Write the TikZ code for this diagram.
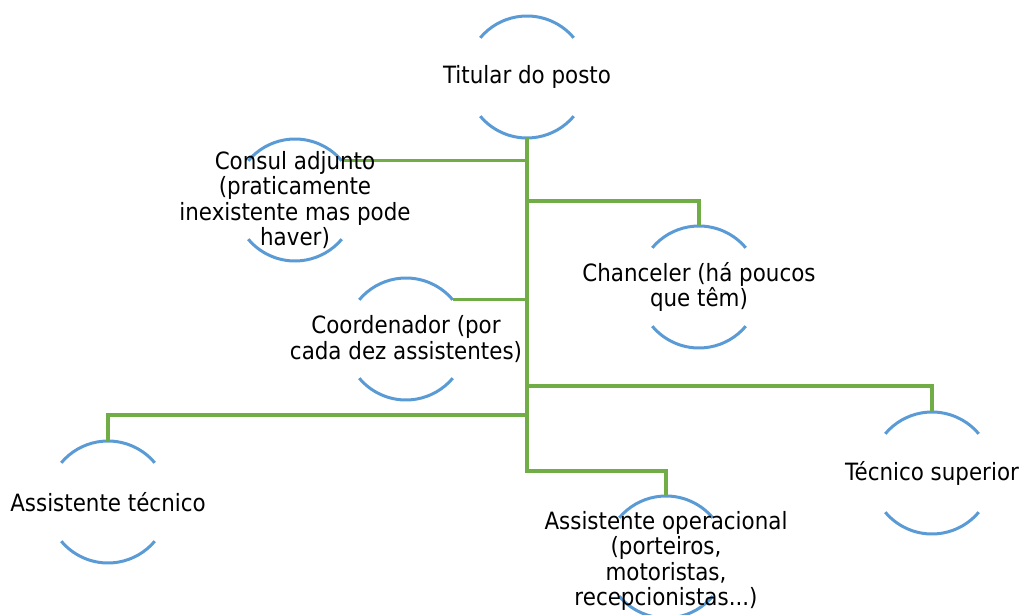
\documentclass[tikz,border=0pt]{standalone}
\usepackage{fontspec}
\setmainfont[FakeStretch=0.9]{DejaVu Sans}
\definecolor{ringblue}{RGB}{91,155,213}
\definecolor{linkgreen}{RGB}{112,173,71}
\tikzset{
    post/.style={circle, minimum size=122pt, inner sep=0pt, outer sep=0pt},
    ring/.style={ringblue, line width=3pt},
    conn/.style={linkgreen, line width=3.2pt},
    lbl/.style={align=center, inner sep=0pt, font=\fontsize{23.8}{25.5}\selectfont}
}
\begin{document}
\begin{tikzpicture}[x=1pt, y=1pt]
        \useasboundingbox (0,0) rectangle (1023,614);

        % circles (only their top and bottom arcs are shown)
        \node[post] (tit) at (527,537) {};
        \node[post] (con) at (295,414) {};
        \node[post] (cha) at (699,327) {};
        \node[post] (coo) at (406,275) {};
        \node[post] (tsu) at (932,141) {};
        \node[post] (ats) at (108,112) {};
        \node[post] (aop) at (666,57) {};

        \foreach \n in {tit,con,cha,coo,tsu,ats,aop} {
            \draw[ring] (\n.40) arc (40:140:61pt);
            \draw[ring] (\n.220) arc (220:320:61pt);
        }

        % junctions on the trunk
        \coordinate (jcha) at (527,413);
        \coordinate (jtsu) at (527,228);
        \coordinate (jats) at (527,199);
        \coordinate (jaop) at (527,143);

        \draw[conn] (tit.south) -- (jaop) -| (aop.north);
        \draw[conn] (con.40) -- (con.40 -| tit.south);
        \draw[conn] (coo.40) -- (coo.40 -| tit.south);
        \draw[conn] (jcha) -| (cha.north);
        \draw[conn] (jtsu) -| (tsu.north);
        \draw[conn] (jats) -| (ats.north);

        % texts
        \node[lbl] (titt) at (tit) {Titular do posto};
        \node[lbl] (cont) at (con) {Consul adjunto\\(praticamente\\inexistente mas pode\\haver)};
        \node[lbl] (chat) at (cha) {Chanceler (há poucos\\que têm)};
        \node[lbl] (coot) at (coo) {Coordenador (por\\cada dez assistentes)};
        \node[lbl] (tsut) at (tsu) {Técnico superior};
        \node[lbl] (atst) at (ats) {Assistente técnico};
        \node[lbl] (aopt) at (666,53) {Assistente operacional\\(porteiros,\\motoristas,\\recepcionistas...)};
    \end{tikzpicture}
\end{document}
